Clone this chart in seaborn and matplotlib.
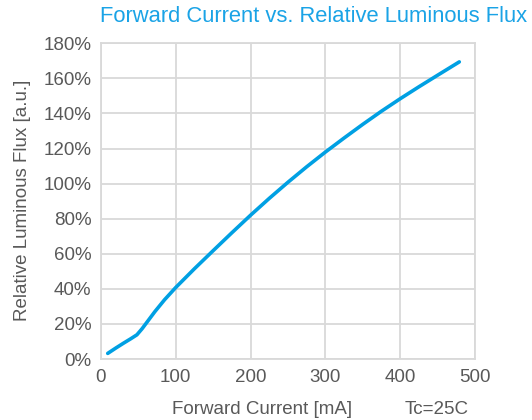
import matplotlib
matplotlib.use("Agg")
import matplotlib.pyplot as plt
import seaborn as sns
import pandas as pd
from matplotlib.ticker import FuncFormatter

current_ma = [9, 20, 30, 40, 48, 55, 62, 72, 85, 100, 125, 150, 175, 200, 225, 250,
              275, 300, 325, 350, 375, 400, 425, 450, 479]
rel_flux = [3.2, 6.3, 9.0, 11.6, 13.8, 17.3, 21.3, 27.0, 33.8, 40.8, 51.5, 61.8, 72.0,
            82.0, 91.6, 100.8, 109.6, 118.0, 126.0, 133.8, 141.3, 148.4, 155.2, 161.8, 169.4]
x_ticks = [0, 100, 200, 300, 400, 500]
y_ticks = [0, 20, 40, 60, 80, 100, 120, 140, 160, 180]

df = pd.DataFrame({"current": current_ma, "flux": rel_flux})

sns.set_style("white")
plt.rcParams['font.family'] = ['Liberation Sans', 'DejaVu Sans']

fig = plt.figure(figsize=(5.32, 4.2), dpi=100)
ax = fig.add_axes([101/532, 1-359/420, (475-101)/532, (359-43.3)/420])

sns.lineplot(data=df, x="current", y="flux", ax=ax, color="#00A0E3", linewidth=2.6,
             solid_capstyle="round", solid_joinstyle="round")

grid_c = "#D9D9D9"
ax.set_xlim(0, 500)
ax.set_ylim(0, 180)
ax.set_xticks(x_ticks)
ax.set_yticks(y_ticks)
ax.yaxis.set_major_formatter(FuncFormatter(lambda v, p: f"{int(v)}%"))
ax.grid(True, color=grid_c, linewidth=1.3)
ax.set_axisbelow(True)
for s in ax.spines.values():
    s.set_color(grid_c)
    s.set_linewidth(1.3)
ax.tick_params(length=0, labelsize=13.5, colors="#595959", pad=7)

ax.set_xlabel("")
ax.set_ylabel("")
fig.text(23/532, 1-200/420, "Relative Luminous Flux [a.u.]", fontsize=13.5, color="#595959",
         rotation=90, ha="center", va="center")
fig.text(262/532, 1-410/420, "Forward Current [mA]", fontsize=13.5, color="#595959",
         ha="center", va="center")
fig.text(437/532, 1-410/420, "Tc=25C", fontsize=13.5, color="#595959",
         ha="center", va="center")
fig.text(527/532, 1-17/420, "Forward Current vs. Relative Luminous Flux", fontsize=15.8,
         color="#1AA3E6", ha="right", va="center")

fig.savefig("out.png", dpi=100)
